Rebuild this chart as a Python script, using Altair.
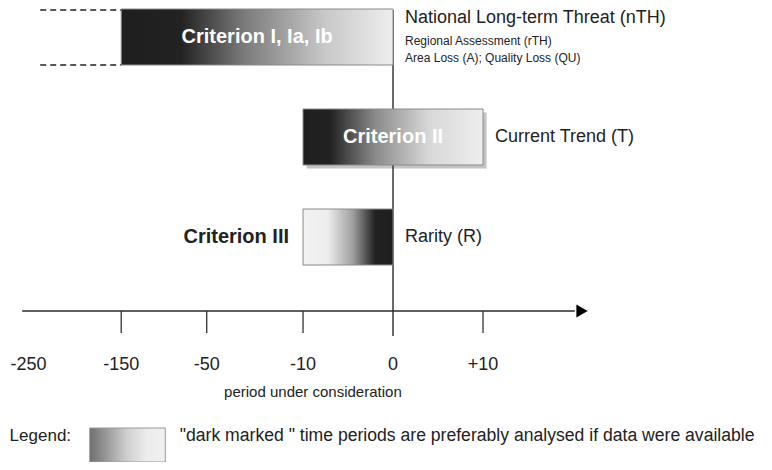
import altair as alt
import pandas as pd
import numpy as np

# ---- data -------------------------------------------------------------
# axis: periods under consideration (non-linear axis -> slot positions)
tick_labels = ["-250", "-150", "-50", "-10", "0", "+10"]
tick_values = [-250, -150, -50, -10, 0, 10]
tick_slots = [-4.05, -3.02, -2.07, -1.0, 0.0, 1.0]
tick_drawn = [False, True, True, True, False, True]

criteria = ["Criterion I, Ia, Ib", "Criterion II", "Criterion III"]
crit_start = [-150, -10, -10]
crit_end = [0, 10, 0]
crit_row = [0, 1, 2]
crit_desc = ["National Long-term Threat (nTH)", "Current Trend (T)", "Rarity (R)"]
sub_desc = ["Regional Assessment (rTH)", "Area Loss (A); Quality Loss (QU)"]

axis_title = "period under consideration"
legend_label = "Legend:"
legend_text = '"dark marked " time periods are preferably analysed if data were available'

# ---- helpers ----------------------------------------------------------
def slot(v):
    return float(np.interp(v, tick_values, tick_slots))

FONT = "Liberation Sans"
HALF = 0.28
AXIS_Y = 2.74

xscale = alt.Scale(domain=[-4.278, 4.122], nice=False, zero=False)
yscale = alt.Scale(domain=[-0.29, 4.25], reverse=True, nice=False, zero=False)


def X(f):
    return alt.X(f"{f}:Q", scale=xscale, axis=None)


def Y(f):
    return alt.Y(f"{f}:Q", scale=yscale, axis=None)


bars = pd.DataFrame({
    "name": criteria,
    "row": crit_row,
    "x": [slot(v) for v in crit_start],
    "x2": [slot(v) for v in crit_end],
    "desc": crit_desc,
})
bars["y"] = bars["row"] - HALF
bars["y2"] = bars["row"] + HALF
bars["xc"] = (bars["x"] + bars["x2"]) / 2

ticks = pd.DataFrame({"label": tick_labels, "x": tick_slots, "drawn": tick_drawn})
ticks["y"] = AXIS_Y
ticks["y2"] = 2.96
ticks["ly"] = 3.28

rules = pd.DataFrame({
    "x": [0.0, -4.12],
    "x2": [0.0, 2.02],
    "y": [-0.27, AXIS_Y],
    "y2": [2.99, AXIS_Y],
})


def grad(stops):
    return alt.Gradient(
        gradient="linear",
        stops=[alt.GradientStop(color=c, offset=o) for o, c in stops],
        x1=0, x2=1, y1=0, y2=0,
    )


g1 = grad([(0, "#1e1e1e"), (0.22, "#222222"), (0.45, "#7a7a7a"), (0.75, "#c8c8c8"), (1, "#eeeeee")])
g2 = grad([(0, "#1e1e1e"), (0.15, "#222222"), (0.4, "#8a8a8a"), (0.7, "#d8d8d8"), (1, "#eeeeee")])
g3 = grad([(0, "#f2f2f2"), (0.27, "#eeeeee"), (0.55, "#a0a0a0"), (0.8, "#222222"), (1, "#1e1e1e")])
gl = grad([(0, "#6e6e6e"), (0.5, "#d0d0d0"), (0.75, "#ececec"), (1, "#f0f0f0")])

base_bars = alt.Chart(bars)

shadow = base_bars.transform_filter("datum.row == 1").transform_calculate(
    sx="datum.x + 0.04", sx2="datum.x2 + 0.04", sy="datum.y + 0.035", sy2="datum.y2 + 0.035"
).mark_rect(fill="#c4c4c4").encode(
    x=X("sx"), x2=alt.X2("sx2"), y=Y("sy"), y2=alt.Y2("sy2")
)

line_rules = alt.Chart(rules).mark_rule(color="#2a2a2a", strokeWidth=1.4).encode(
    x=X("x"), x2=alt.X2("x2"), y=Y("y"), y2=alt.Y2("y2")
)

arrow = alt.Chart(pd.DataFrame({"x": [2.1], "y": [AXIS_Y]})).mark_point(
    shape="triangle-right", filled=True, color="#000000", size=170, opacity=1
).encode(x=X("x"), y=Y("y"))

tick_marks = alt.Chart(ticks).transform_filter("datum.drawn").mark_rule(
    color="#333333", strokeWidth=1.3
).encode(x=X("x"), y=Y("y"), y2=alt.Y2("y2"))

tick_text = alt.Chart(ticks).mark_text(
    font=FONT, fontSize=18, color="#222222", baseline="middle"
).encode(x=X("x"), y=Y("ly"), text="label:N")


def bar_layer(row, g):
    return base_bars.transform_filter(f"datum.row == {row}").mark_rect(
        fill=g, stroke="#8a8a8a", strokeWidth=1
    ).encode(x=X("x"), x2=alt.X2("x2"), y=Y("y"), y2=alt.Y2("y2"))


dash_df = pd.DataFrame({"x": [-3.92, -3.92], "x2": [slot(-150)] * 2, "y": [-HALF + 0.01, HALF]})
dashes = alt.Chart(dash_df).mark_rule(color="#222222", strokeWidth=1.3, strokeDash=[6, 4]).encode(
    x=X("x"), x2=alt.X2("x2"), y=Y("y")
)

crit_white = base_bars.transform_filter("datum.row < 2").mark_text(
    font=FONT, fontSize=20, fontWeight="bold", color="white", baseline="middle"
).encode(x=X("xc"), y=Y("row"), text="name:N")

crit_black = base_bars.transform_filter("datum.row == 2").mark_text(
    font=FONT, fontSize=20, fontWeight="bold", color="#222222", baseline="middle", align="right", dx=-14
).encode(x=X("x"), y=Y("row"), text="name:N")

desc_main = base_bars.transform_filter("datum.row == 0").mark_text(
    font=FONT, fontSize=18, color="#222222", baseline="middle", align="left", dx=12, dy=-19
).encode(x=X("x2"), y=Y("row"), text="desc:N")

desc_other = base_bars.transform_filter("datum.row > 0").mark_text(
    font=FONT, fontSize=18, color="#222222", baseline="middle", align="left", dx=12
).encode(x=X("x2"), y=Y("row"), text="desc:N")

sub_df = pd.DataFrame({"t": sub_desc, "x": [0.0, 0.0], "y": [0.04, 0.21]})
sub_text = alt.Chart(sub_df).mark_text(
    font=FONT, fontSize=12, color="#222222", baseline="middle", align="left", dx=12
).encode(x=X("x"), y=Y("y"), text="t:N")

misc_df = pd.DataFrame({
    "t": [axis_title, legend_label, legend_text],
    "x": [-0.89, -4.26, -2.37],
    "y": [3.55, 3.99, 3.99],
})
title_text = alt.Chart(misc_df.iloc[[0]]).mark_text(
    font=FONT, fontSize=15, color="#222222", baseline="middle"
).encode(x=X("x"), y=Y("y"), text="t:N")

legend_lbl = alt.Chart(misc_df.iloc[[1]]).mark_text(
    font=FONT, fontSize=17, color="#222222", baseline="middle", align="left"
).encode(x=X("x"), y=Y("y"), text="t:N")

legend_txt = alt.Chart(misc_df.iloc[[2]]).mark_text(
    font=FONT, fontSize=17.6, color="#222222", baseline="middle", align="left"
).encode(x=X("x"), y=Y("y"), text="t:N")

legend_box = alt.Chart(pd.DataFrame({"x": [-3.37], "x2": [-2.53], "y": [3.91], "y2": [4.25]})).mark_rect(
    fill=gl, stroke="#9a9a9a", strokeWidth=1
).encode(x=X("x"), x2=alt.X2("x2"), y=Y("y"), y2=alt.Y2("y2"))

chart = alt.layer(
    shadow, line_rules, arrow, tick_marks, tick_text,
    bar_layer(0, g1), bar_layer(1, g2), bar_layer(2, g3),
    dashes, crit_white, crit_black, desc_main, desc_other, sub_text,
    title_text, legend_lbl, legend_txt, legend_box,
).properties(
    width=756, height=454, autosize=alt.AutoSizeParams(type="none"), padding=0
).configure_view(stroke=None)

chart.save("out.html", embed_options={"renderer": "svg", "actions": False})
